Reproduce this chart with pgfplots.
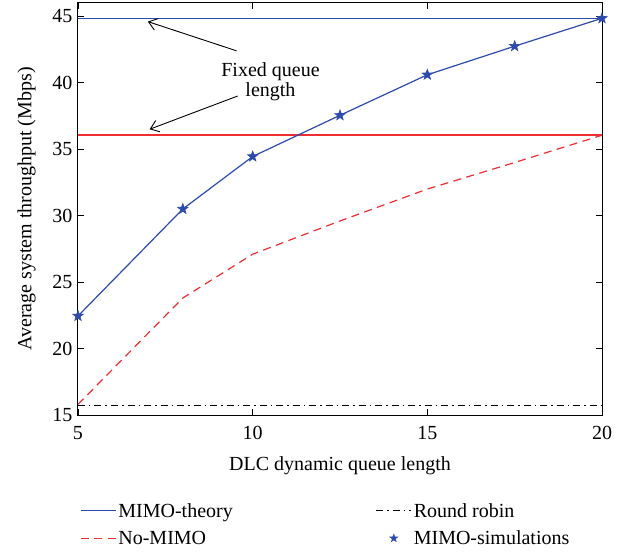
\documentclass[border=0pt]{standalone}
\usepackage{pgfplots}
\pgfplotsset{compat=1.18}
\usetikzlibrary{arrows.meta}
\usepackage{fontspec}
\setmainfont{Liberation Serif}
\definecolor{mblue}{RGB}{45,75,170}
\definecolor{mred}{RGB}{240,45,50}
% filled five-pointed star, like the reference markers
\pgfdeclareplotmark{pentagram}{%
  \pgfpathmoveto{\pgfpointpolar{90}{\pgfplotmarksize}}%
  \pgfpathlineto{\pgfpointpolar{126}{0.4\pgfplotmarksize}}%
  \pgfpathlineto{\pgfpointpolar{162}{\pgfplotmarksize}}%
  \pgfpathlineto{\pgfpointpolar{198}{0.4\pgfplotmarksize}}%
  \pgfpathlineto{\pgfpointpolar{234}{\pgfplotmarksize}}%
  \pgfpathlineto{\pgfpointpolar{270}{0.4\pgfplotmarksize}}%
  \pgfpathlineto{\pgfpointpolar{306}{\pgfplotmarksize}}%
  \pgfpathlineto{\pgfpointpolar{342}{0.4\pgfplotmarksize}}%
  \pgfpathlineto{\pgfpointpolar{18}{\pgfplotmarksize}}%
  \pgfpathlineto{\pgfpointpolar{54}{0.4\pgfplotmarksize}}%
  \pgfpathclose
  \pgfusepathqfillstroke
}
\pgfplotsset{
    longline/.style={legend image code/.code={\draw[##1] (-5pt,0pt) -- (30pt,0pt);}},
    onestar/.style={legend image code/.code={\draw[##1, mark size=4pt] plot coordinates {(12.5pt,0pt)};}},
}
\begin{document}
\begin{tikzpicture}
\begin{axis}[
    width=524pt, height=412pt,
    scale only axis,
    xmin=5, xmax=20, ymin=15, ymax=46,
    xtick={5,10,15,20},
    ytick={15,20,...,45},
    tick align=inside,
    major tick length=6pt,
    tick style={black, line width=0.8pt},
    axis line style={black, line width=1pt},
    font=\fontsize{20}{24}\selectfont,
    /pgf/number format/assume math mode=true,
    xticklabel style={yshift=-7.5pt},
    yticklabel style={xshift=-2pt},
    xlabel={DLC dynamic queue length},
    ylabel={Average system throughput (Mbps)},
    xlabel style={yshift=-10pt},
    ylabel style={yshift=10pt},
    legend columns=2,
    legend style={at={(0,0)}, anchor=north west, xshift=-1pt, yshift=-84pt,
        draw=none, fill=none,
        font=\fontsize{20}{24}\selectfont,
        /tikz/every even column/.append style={column sep=141pt},
        row sep=8pt},
    legend cell align=left,
    clip=false,
]
% fixed queue length lines
\addplot[color=mblue, line width=1.5pt, forget plot] coordinates {(5,44.85) (20,44.85)};
\addplot[color=mred, line width=1.5pt, forget plot] coordinates {(5,36.05) (20,36.05)};

\addplot[color=mblue, line width=1.2pt, longline] coordinates {
    (5,22.45) (8,30.5) (10,34.45) (12.5,37.55) (15,40.6) (17.5,42.75) (20,44.85)
};
\addlegendentry{MIMO-theory}

\addplot[color=black, line width=1pt, dash pattern=on 7pt off 4pt on 1.5pt off 4pt, longline] coordinates {
    (5,15.72) (20,15.72)
};
\addlegendentry{Round robin}

\addplot[color=mred, line width=1.2pt, dash pattern=on 8pt off 5.5pt, longline] coordinates {
    (5,15.8) (8,23.8) (10,27.1) (12.5,29.6) (15,32.0) (17.5,34.0) (20,36.05)
};
\addlegendentry{No-MIMO}

\addplot[only marks, color=mblue, mark=pentagram, mark size=5.5pt,
    mark options={line width=0.6pt}, onestar] coordinates {
    (5,22.45) (8,30.5) (10,34.45) (12.5,37.55) (15,40.6) (17.5,42.75) (20,44.85)
};
\addlegendentry{MIMO-simulations}

\draw[-{Straight Barb[length=8pt,width=12pt]}, line width=0.9pt] (axis cs:9.54,42.4) -- (axis cs:7.0,44.6);
\draw[-{Straight Barb[length=8pt,width=12pt]}, line width=0.9pt] (axis cs:9.57,39.0) -- (axis cs:7.05,36.5);
\node[align=center, font=\fontsize{20}{20}\selectfont, inner sep=1pt]
    at (axis cs:10.51,40.1) {Fixed queue\\length};

% page size as in the reference
\coordinate (tl) at ([shift={(-78pt,3pt)}]rel axis cs:0,1);
\coordinate (br) at ([shift={(32pt,-139pt)}]rel axis cs:1,0);
\end{axis}
\pgfresetboundingbox
\useasboundingbox (tl) rectangle (br);
\end{tikzpicture}
\end{document}
